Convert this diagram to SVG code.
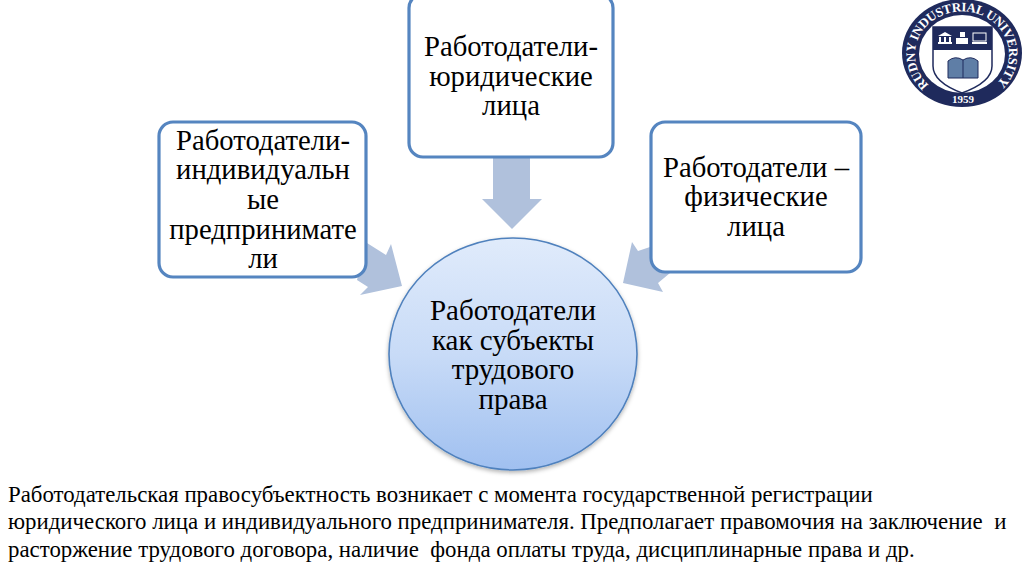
<svg xmlns="http://www.w3.org/2000/svg" width="1024" height="574" viewBox="0 0 1024 574">
<style>
.box{fill:#fff;stroke:#5585c0;stroke-width:3.2}
.arr{fill:#b0c1dc}
.t{font-family:"Liberation Serif","Times New Roman",serif;fill:#000;text-anchor:middle;font-size:28.7px}
.m{font-size:29px}
.b{font-family:"Liberation Serif","Times New Roman",serif;fill:#000;font-size:22.85px}
.l{font-family:"Liberation Serif",serif;fill:#fff;font-size:13px;font-weight:bold}
</style>
<defs>
<linearGradient id="g" x1="0" y1="0" x2="0" y2="1"><stop offset="0" stop-color="#e0ebfb"/><stop offset=".5" stop-color="#c8dbf7"/><stop offset="1" stop-color="#a0c0f0"/></linearGradient>
<filter id="s" x="-10%" y="-10%" width="120%" height="120%"><feDropShadow dx="0" dy="2" stdDeviation="2" flood-color="#000" flood-opacity=".3"/></filter>
<path id="ringT" d="M929 85A47 43 0 1 1 995 85"/>
</defs>
<rect width="1024" height="574" fill="#fff"/>
<g id="connectors">
<polygon class="arr" points="493,157 530,157 530,199 542,199 512,229 482,199 493,199"/>
<polygon class="arr" points="367,243 386,255 391,244 402,286 360,295 368,287 357,280"/>
<polygon class="arr" points="650,247 638,251 632,242 623,283 663,292 658,283 670,273"/>
</g>
<g id="node-left"><rect class="box" x="159" y="122" width="207" height="155" rx="14"/>
<text class="t" x="263" y="150">Работодатели-</text><text class="t" x="263" y="179">индивидуальн</text><text class="t" x="263" y="209">ые</text><text class="t" x="263" y="239">предпринимате</text><text class="t" x="263" y="268">ли</text></g>
<g id="node-center"><rect class="box" x="409" y="-6" width="204" height="163" rx="14"/>
<text class="t" x="511" y="56">Работодатели-</text><text class="t" x="511" y="86">юридические</text><text class="t" x="511" y="115">лица</text></g>
<g id="node-right"><rect class="box" x="651" y="122" width="210" height="150" rx="14"/>
<text class="t" x="756" y="177">Работодатели –</text><text class="t" x="756" y="206">физические</text><text class="t" x="756" y="236">лица</text></g>
<g id="node-main"><ellipse cx="513" cy="354" rx="124" ry="116" fill="url(#g)" stroke="#4f81bd" stroke-width="1.6" filter="url(#s)"/>
<text class="t m" x="513" y="320">Работодатели</text><text class="t m" x="513" y="350">как субъекты</text><text class="t m" x="513" y="379">трудового</text><text class="t m" x="513" y="409">права</text></g>
<g id="note">
<text class="b" x="8" y="502">Работодательская правосубъектность возникает с момента государственной регистрации</text>
<text class="b" x="8" y="529" xml:space="preserve">юридического лица и индивидуального предпринимателя. Предполагает правомочия на заключение  и</text>
<text class="b" x="8" y="557" xml:space="preserve">расторжение трудового договора, наличие  фонда оплаты труда, дисциплинарные права и др.</text>
</g>
<g id="logo">
<ellipse cx="962" cy="53" rx="60" ry="54" fill="#1f2a5c"/>
<ellipse cx="962" cy="54" rx="43" ry="39" fill="#fff"/>
<path d="M933 27H992V66Q992 82 962 93Q933 82 933 66Z" fill="#fff" stroke="#1f2a5c" stroke-width="1.5"/>
<path d="M933 27H992V50H933Z" fill="#1f2a5c"/>
<g fill="#fff"><path d="M938 36L945 32L952 36Z"/><rect x="939" y="37" width="2" height="5"/><rect x="944" y="37" width="2" height="5"/><rect x="949" y="37" width="2" height="5"/><rect x="938" y="42" width="14" height="2"/><rect x="956" y="38" width="12" height="6"/><rect x="960" y="32" width="5" height="5"/><rect x="973" y="33" width="13" height="8" fill="none" stroke="#fff"/><rect x="972" y="42" width="15" height="2"/></g>
<path d="M948 61Q955 55 963 60Q971 55 978 61V78H948Z" fill="#5f7ea6" stroke="#1f2a5c"/>
<path d="M963 60V78" stroke="#1f2a5c"/>
<text font-family="Liberation Serif,serif" font-size="11" fill="#fff" text-anchor="middle" x="963" y="103" font-weight="bold">1959</text>
<text class="l"><textPath href="#ringT" startOffset="0" textLength="208">RUDNY INDUSTRIAL UNIVERSITY</textPath></text>
</g>
</svg>
